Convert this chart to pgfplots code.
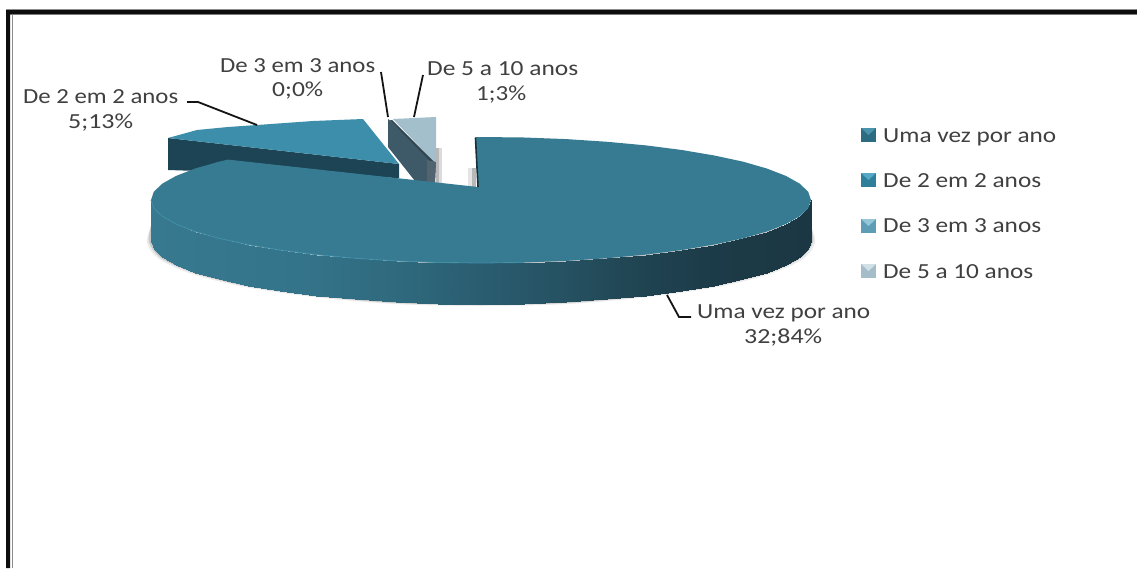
\documentclass[border=0pt]{standalone}
\usepackage{pgfplots}
\pgfplotsset{compat=1.18}
\usepackage{fontspec}
\setmainfont{Carlito}
\definecolor{maintop}{RGB}{55,123,146}
\definecolor{mainrim}{RGB}{64,142,167}
\definecolor{twotop}{RGB}{60,142,170}
\definecolor{twoside}{RGB}{28,68,85}
\definecolor{threeside}{RGB}{62,90,104}
\definecolor{fivetop}{RGB}{163,191,203}
\definecolor{inktext}{RGB}{64,64,64}
% Sets a label at a given width by stretching it horizontally
\newlength{\labw}
\newcommand{\fit}[2]{\settowidth{\labw}{#2}\pgfmathsetmacro{\fitr}{#1/\labw}\scalebox{\fitr}[1]{#2}}
\newcommand{\lab}[4]{\node[anchor=base west,inner sep=0pt,text=inktext,font=\fontsize{21.5pt}{21.5pt}\selectfont] at (axis cs:#1,#2) {\fit{#3}{#4}};}
\begin{document}
\begin{tikzpicture}
\begin{axis}[
  x=1pt,y=1pt,
  xmin=0,xmax=1137,ymin=0,ymax=568,
  y dir=reverse,
  hide axis,
  clip=true,
  point meta min=151,point meta max=811,
  colormap={pieside}{rgb255(151pt)=(55,121,143) rgb255(300pt)=(52,116,138) rgb255(400pt)=(47,105,125) rgb255(480pt)=(42,93,112) rgb255(560pt)=(38,82,99) rgb255(640pt)=(32,68,82) rgb255(720pt)=(28,58,71) rgb255(811pt)=(27,55,67)},
]
% page and frame
\addplot[draw=none,fill=white] coordinates {(0,0)(1137,0)(1137,568)(0,568)} -- cycle;
\addplot[draw=none,fill=black!45] coordinates {(6,9)(1137,9)(1137,15)(6,15)} -- cycle;
\addplot[draw=none,fill=black!45] coordinates {(12.4,15)(13.4,15)(13.4,568)(12.4,568)} -- cycle;
\addplot[draw=none,fill=black!95] coordinates {(6,10)(1137,10)(1137,14)(10,14)(10,568)(6,568)} -- cycle;

% De 2 em 2 anos
\addplot[draw=none,fill=twoside] coordinates {(168,138)(399,164)(399,178)(228,172)(168,170)} -- cycle;
\addplot[draw=none,fill=twotop] coordinates {(168,138)(197,130)(228,127)(257,125)(313,121)(363,119)(399,164)} -- cycle;

% De 3 em 3 anos and De 5 a 10 anos
\addplot[draw=none,fill=black!28] coordinates {(436,148)(439,148)(439,183)(436,183)} -- cycle;
\addplot[draw=none,fill=black!14] coordinates {(439,148)(442,148)(442,183)(439,183)} -- cycle;
\addplot[draw=none,fill=fivetop] coordinates {(393,119)(436,117)(436,162)(434,162)} -- cycle;
\addplot[draw=none,fill=threeside] coordinates {(388,119)(392,122)(434,162)(436,162)(435,183)(415,181)(388,147)} -- cycle;
\addplot[draw=none,fill=black!25!threeside] coordinates {(390,120)(392,120)(434,162)(434,165)} -- cycle;
\addplot[draw=none,fill={rgb,255:red,82;green,100;blue,112}] coordinates {(427,160)(436,162)(435,183)(427,182)} -- cycle;

% shadow under the main slice
\addplot[draw=none,fill=black!8,smooth] coordinates {(811,226)(815,243)(803,259)(770,274)(717,287)(648,297)(567,304)(481,306)(395,304)(314,297)(245,287)(192,274)(159,259)(147,243)(151,226)} -- cycle;
\addplot[draw=none,fill=black!22,smooth] coordinates {(811,226)(813,242)(801,258)(768,273)(716,286)(647,296)(567,303)(481,305)(395,303)(315,296)(246,286)(194,273)(161,258)(149,242)(151,226)} -- cycle;
\addplot[draw=none,fill=black!10] coordinates {(468,168)(472,168)(472,187)(468,187)} -- cycle;
\addplot[draw=none,fill=black!28] coordinates {(472,168)(476,168)(476,187)(472,187)} -- cycle;

% main slice: side wall
\addplot[surf,shader=interp,mesh/rows=2,mesh/cols=25,point meta=x] coordinates {
(811,200)(808.2,208.2)(799.8,216.3)(785.9,224.1)(766.8,231.5)(742.8,238.4)(714.3,244.5)(681.9,250)(646,254.6)(607.3,258.2)(566.4,260.9)(524.1,262.5)(481,263)(437.9,262.5)(395.6,260.9)(354.7,258.2)(316,254.6)(280.1,250)(247.7,244.5)(219.2,238.4)(195.2,231.5)(176.1,224.1)(162.2,216.3)(153.8,208.2)(151,200)
(811,241)(808.2,249.2)(799.8,257.3)(785.9,265.1)(766.8,272.5)(742.8,279.4)(714.3,285.5)(681.9,291)(646,295.6)(607.3,299.2)(566.4,301.9)(524.1,303.5)(481,304)(437.9,303.5)(395.6,301.9)(354.7,299.2)(316,295.6)(280.1,291)(247.7,285.5)(219.2,279.4)(195.2,272.5)(176.1,265.1)(162.2,257.3)(153.8,249.2)(151,241)
};
% main slice: top face
\addplot[draw=none,fill=maintop] coordinates {(475,137)(481,137)(524.1,137.5)(566.4,139.1)(607.3,141.8)(646,145.4)(681.9,150)(714.3,155.5)(742.8,161.6)(766.8,168.5)(785.9,175.9)(799.8,183.7)(808.2,191.8)(811,200)(808.2,208.2)(799.8,216.3)(785.9,224.1)(766.8,231.5)(742.8,238.4)(714.3,244.5)(681.9,250)(646,254.6)(607.3,258.2)(566.4,260.9)(524.1,262.5)(481,263)(437.9,262.5)(395.6,260.9)(354.7,258.2)(316,254.6)(280.1,250)(247.7,244.5)(219.2,238.4)(195.2,231.5)(176.1,224.1)(162.2,216.3)(153.8,208.2)(151,200)(153.8,191.8)(162.2,183.7)(176.1,175.9)(195.2,168.5)(219.2,161.6)(228,159.6)(478,187)} -- cycle;
\addplot[draw=mainrim,line width=0.8pt] coordinates {(524.1,262.5)(481,263)(437.9,262.5)(395.6,260.9)(354.7,258.2)(316,254.6)(280.1,250)(247.7,244.5)(219.2,238.4)(195.2,231.5)(176.1,224.1)(162.2,216.3)(153.8,208.2)(151,200)};
\addplot[draw=black!60!maintop,line width=1.6pt] coordinates {(475.5,138)(478,187)};

% leader lines
\addplot[draw=black!92,line width=1.8pt] coordinates {(381,72)(388,117)};
\addplot[draw=black!92,line width=1.8pt] coordinates {(423,75)(414,117)};
\addplot[draw=black!92,line width=1.8pt] coordinates {(187,102)(198,102)(257,125)};
\addplot[draw=black!92,line width=1.8pt] coordinates {(667,295)(679,317)(691,317)};

% data labels
\lab{220}{72}{155}{De 3 em 3 anos}
\lab{272}{96}{51}{0;0\%}
\lab{427}{75}{151}{De 5 a 10 anos}
\lab{476}{100}{50}{1;3\%}
\lab{23}{103}{155}{De 2 em 2 anos}
\lab{68}{128}{65}{5;13\%}
\lab{697}{318}{173}{Uma vez por ano}
\lab{744}{343}{78}{32;84\%}

% legend keys
\addplot[draw=none,fill={rgb,255:red,45;green,107;blue,130}] coordinates {(861,128)(876,128)(876,142)(861,142)} -- cycle;
\addplot[draw=none,fill={rgb,255:red,74;green,147;blue,173}] coordinates {(861,128)(876,128)(868.5,135)} -- cycle;
\addplot[draw=none,fill={rgb,255:red,47;green,127;blue,155}] coordinates {(861,173)(876,173)(876,187)(861,187)} -- cycle;
\addplot[draw=none,fill={rgb,255:red,85;green,169;blue,198}] coordinates {(861,173)(876,173)(868.5,180)} -- cycle;
\addplot[draw=none,fill={rgb,255:red,94;green,157;blue,182}] coordinates {(861,219)(876,219)(876,233)(861,233)} -- cycle;
\addplot[draw=none,fill={rgb,255:red,147;green,198;blue,216}] coordinates {(861,219)(876,219)(868.5,226)} -- cycle;
\addplot[draw=none,fill={rgb,255:red,165;green,189;blue,201}] coordinates {(861,264)(876,264)(876,278)(861,278)} -- cycle;
\addplot[draw=none,fill={rgb,255:red,207;green,224;blue,231}] coordinates {(861,264)(876,264)(868.5,271)} -- cycle;

% legend entries
\lab{883}{142}{173}{Uma vez por ano}
\lab{883}{187}{158}{De 2 em 2 anos}
\lab{883}{232}{158}{De 3 em 3 anos}
\lab{883}{278}{150}{De 5 a 10 anos}
\end{axis}
\end{tikzpicture}
\end{document}
